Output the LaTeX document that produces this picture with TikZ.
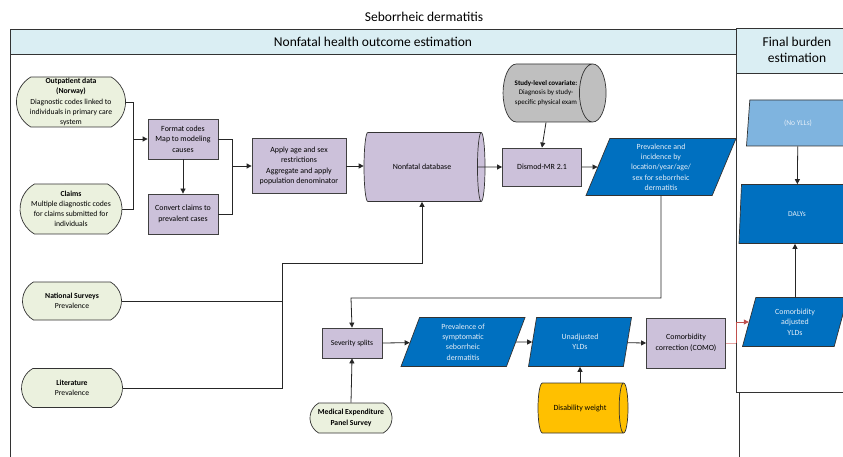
\documentclass[tikz,border=0pt]{standalone}
\usepackage{fontspec}
\setmainfont{Carlito}
\usetikzlibrary{shapes.geometric,shapes.misc,arrows.meta}
\definecolor{hdr}{HTML}{DAEEF3}
\definecolor{grn}{HTML}{EBF1DE}
\definecolor{purp}{HTML}{CCC1DA}
\definecolor{blu}{HTML}{0070C0}
\definecolor{lblu}{HTML}{7FB4DF}
\definecolor{gry}{HTML}{BFBFBF}
\definecolor{yel}{HTML}{FFC000}
\definecolor{redc}{HTML}{C0504D}
\definecolor{pinkc}{HTML}{E6A3A1}
\definecolor{paletxt}{HTML}{E4EEF8}
\tikzset{
  panel/.style={draw=black!80, line width=0.8pt},
  term/.style={shape=rounded rectangle, rounded rectangle arc length=120, draw=black!80, line width=0.7pt, fill=grn, inner sep=1pt, align=center, font=\fontsize{7.7}{10.2}\selectfont},
  pbox/.style={rectangle, draw=black!75, line width=0.8pt, fill=purp, align=center, inner sep=1pt, font=\fontsize{7.9}{10.4}\selectfont},
  para/.style={trapezium, trapezium left angle=63, trapezium right angle=117, trapezium stretches body, draw=black!80, line width=0.7pt, fill=blu, text=paletxt, align=center, inner sep=0pt, font=\fontsize{7.9}{10.3}\selectfont},
  cyl/.style={cylinder, shape aspect=1, draw=black!80, line width=0.7pt, align=center, inner sep=1pt, font=\fontsize{7.9}{10.4}\selectfont},
  conn/.style={draw=black!85, line width=0.8pt},
  arr/.style={conn, -{Triangle[length=5pt,width=5pt]}},
}
\begin{document}
\begin{tikzpicture}[x=1pt,y=-1pt]
\useasboundingbox (0,0) rectangle (843,457);
\clip (0,0) rectangle (843,457);
% panels
\draw[panel, fill=white] (10,29) rectangle (739,475);
\draw[panel, fill=hdr] (10,29) rectangle (736,54);
\node[font=\fontsize{13.5}{16}\selectfont] (hdrL) at (373,42) {Nonfatal health outcome estimation};
\draw[panel, fill=white] (736,28) rectangle (870,392);
\draw[panel, fill=hdr] (736,28) rectangle (870,73);
\node[font=\fontsize{13.5}{16}\selectfont, align=center] (hdrR) at (797,50) {Final burden\\estimation};
\node[font=\fontsize{13.5}{16}\selectfont] (title) at (424,17) {Seborrheic dermatitis};

% left inputs
\node[term, minimum width=104, minimum height=50] (outp) at (71,102) {\textbf{Outpatient data}\\\textbf{(Norway)}\\Diagnostic codes linked to\\individuals in primary care\\system};
\node[term, minimum width=104, minimum height=50] (claims) at (71,209) {\textbf{Claims}\\Multiple diagnostic codes\\for claims submitted for\\individuals};
\node[term, minimum width=101, minimum height=38] (nat) at (72,301) {\textbf{National Surveys}\\Prevalence};
\node[term, minimum width=103, minimum height=39] (lit) at (72,388) {\textbf{Literature}\\Prevalence};
\node[term, minimum width=84, minimum height=30] (mexp) at (351,418) {\textbf{Medical Expenditure}\\\textbf{Panel Survey}};

% process boxes
\node[pbox, minimum width=70, minimum height=40] (fmt) at (183,139) {Format codes\\Map to modeling\\causes};
\node[pbox, minimum width=70, minimum height=40] (conv) at (183,214) {Convert claims to\\prevalent cases};
\node[pbox, minimum width=94, minimum height=55] (apply) at (299,166) {Apply age and sex\\restrictions\\Aggregate and apply\\population denominator};
\node[cyl, fill=purp, minimum height=121, minimum width=69] (nfdb) at (422,167) {Nonfatal database};
\node[pbox, minimum width=79, minimum height=38] (dismod) at (542,167) {Dismod-MR 2.1};
\node[cyl, fill=gry, minimum height=103, minimum width=58, font=\fontsize{7}{9.3}\selectfont] (study) at (546,93) {\textbf{Study-level covariate:}\\Diagnosis by study-\\specific physical exam};
\node[para, minimum width=150, minimum height=57] (prev) at (661,167) {Prevalence and\\incidence by\\location/year/age/\\sex for seborrheic\\dermatitis};

\node[pbox, minimum width=60, minimum height=30, font=\fontsize{7.6}{10}\selectfont] (sev) at (352,343) {Severity splits};
\node[para, minimum width=124, minimum height=49] (psym) at (463,342) {Prevalence of\\symptomatic\\seborrheic\\dermatitis};
\node[para, minimum width=103, minimum height=49] (unadj) at (580,342) {Unadjusted\\YLDs};
\node[pbox, minimum width=79, minimum height=50] (como) at (686,343) {Comorbidity\\correction (COMO)};
\node[cyl, fill=yel, minimum height=90, minimum width=50] (dw) at (580,408) {Disability weight};

% final burden
\node[para, fill=lblu, minimum width=103, minimum height=46, font=\fontsize{7.5}{10}\selectfont] (noyll) at (798,123) {(No YLLs)};
\node[para, minimum width=116, minimum height=59, font=\fontsize{7.5}{10}\selectfont] (dalys) at (797,214) {DALYs};
\node[para, minimum width=105, minimum height=49] (coadj) at (795,322) {Comorbidity\\adjusted\\YLDs};

% junctions
\coordinate (j1) at (133,139);
\coordinate (j2) at (232,166);
\coordinate (j3) at (282,263);
\coordinate (c1) at (351,298);
\coordinate (r1) at (736,343);

% connectors
\draw[conn] (outp.east) -| (j1);
\draw[conn] (claims.east) -| (j1);
\draw[arr] (j1) -- (fmt.west);
\draw[arr] (fmt) -- (conv);
\draw[conn] (fmt.east) -| (j2);
\draw[conn] (conv.east) -| (j2);
\draw[arr] (j2) -- (apply.west);
\draw[arr] (apply.east) -- (nfdb.west |- apply.east);
\draw[arr] ([xshift=-8pt]nfdb.east) -- (dismod.west);
\draw[arr] (study.south) -- (dismod.north);
\draw[arr] (dismod.east) -- (prev);
\draw[conn] (nat.east) -| (j3);
\draw[conn] (lit.east) -| (j3);
\draw[arr] (j3) -| (nfdb.south);
\draw[arr] (prev.center |- prev.south) |- (c1) -- (sev.north);
\draw[arr] (mexp.north) -- (sev.south);
\draw[arr] (sev.east) -- (psym);
\draw[arr] (psym) -- (unadj);
\draw[arr] (unadj) -- (como.west);
\draw[arr] (dw.north) -- (dw.north |- unadj.south);
\draw[line width=0.8pt, pinkc] (como.east) -- (r1);
\draw[line width=0.8pt, redc, -{Triangle[length=5pt,width=5pt]}] (r1) |- (coadj);
\draw[arr] (noyll) -- (dalys);
\draw[arr] (coadj.center |- coadj.north) -- (coadj.center |- dalys.south);
\end{tikzpicture}
\end{document}
